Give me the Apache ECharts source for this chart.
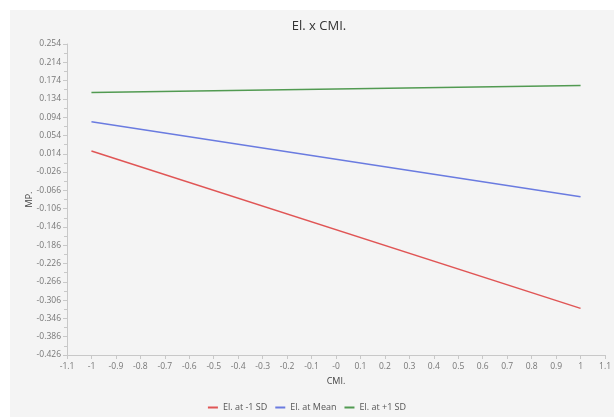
<!DOCTYPE html>
<html><head><meta charset="utf-8">
<script src="https://cdn.jsdelivr.net/npm/echarts@6/dist/echarts.min.js"></script>
<style>html,body{margin:0;padding:0;background:#fff;}#c{width:614px;height:417px;}</style>
</head><body><div id="c"></div>
<script>
const seriesNames = ['El. at -1 SD', 'El. at Mean', 'El. at +1 SD'];
const xPoints = [-1, 1];
const lowValues = [0.020, -0.324];
const meanValues = [0.084, -0.080];
const highValues = [0.148, 0.163];
const xTickLabels = ['-1.1','-1','-0.9','-0.8','-0.7','-0.6','-0.5','-0.4','-0.3','-0.2','-0.1','-0','0.1','0.2','0.3','0.4','0.5','0.6','0.7','0.8','0.9','1','1.1'];
const yTickLabels = ['-0.426','-0.386','-0.346','-0.306','-0.266','-0.226','-0.186','-0.146','-0.106','-0.066','-0.026','0.014','0.054','0.094','0.134','0.174','0.214','0.254'];
const colors = ['#e05555', '#6a7be0', '#519a51'];

const font = '"Open Sans", "Noto Sans", sans-serif';
const chart = echarts.init(document.getElementById('c'), null, {renderer: 'canvas'});
function mk(name, vals, color) {
  return {name, type: 'line', data: xPoints.map((x, i) => [x, vals[i]]), showSymbol: false, symbol: 'none',
    lineStyle: {color, width: 1.5}, itemStyle: {color}};
}
chart.setOption({
  animation: false,
  graphic: [{type: 'rect', z: -10, shape: {x: 10, y: 10, width: 604, height: 407}, style: {fill: '#f4f4f4'}, silent: true}],
  title: {text: 'El. x CMI.', left: 314, textAlign: 'center', top: 15,
    textStyle: {fontSize: 13, fontWeight: 'normal', color: '#333', fontFamily: font}},
  legend: {bottom: 0, left: 'center', itemWidth: 10, itemHeight: 2, itemGap: 8, icon: 'rect',
    textStyle: {fontSize: 9, color: '#555', fontFamily: font}, data: seriesNames},
  grid: {left: 67, top: 44, right: -1, bottom: 62, containLabel: false},
  xAxis: {type: 'value', min: -1.1, max: 1.1, interval: 0.1, name: 'CMI.', nameLocation: 'middle', nameGap: 22,
    nameMoveOverlap: false,
    nameTextStyle: {fontSize: 9, color: '#444', fontFamily: font},
    axisLine: {onZero: false, lineStyle: {color: '#c8c8c8'}}, axisTick: {show: true, length: 4, lineStyle: {color: '#c8c8c8'}},
    splitLine: {show: false},
    axisLabel: {fontSize: 8.5, color: '#777', fontFamily: font, margin: 7,
      formatter: (v, i) => xTickLabels[Math.round((v + 1.1) / 0.1)]}},
  yAxis: {type: 'value', min: -0.426, max: 0.254, interval: 0.04, name: 'MP.', nameLocation: 'middle', nameGap: 33,
    nameMoveOverlap: false,
    nameTextStyle: {fontSize: 9, color: '#444', fontFamily: font},
    axisLine: {show: true, onZero: false, lineStyle: {color: '#c8c8c8'}}, axisTick: {show: true, length: 4, lineStyle: {color: '#c8c8c8'}},
    minorTick: {show: true, splitNumber: 2, length: 3, lineStyle: {color: '#c8c8c8'}},
    splitLine: {show: false},
    axisLabel: {fontSize: 8.5, color: '#777', fontFamily: font, margin: 6,
      formatter: (v) => yTickLabels[Math.round((v + 0.426) / 0.04)]}},
  series: [mk(seriesNames[0], lowValues, colors[0]), mk(seriesNames[1], meanValues, colors[1]), mk(seriesNames[2], highValues, colors[2])]
});
</script></body></html>
